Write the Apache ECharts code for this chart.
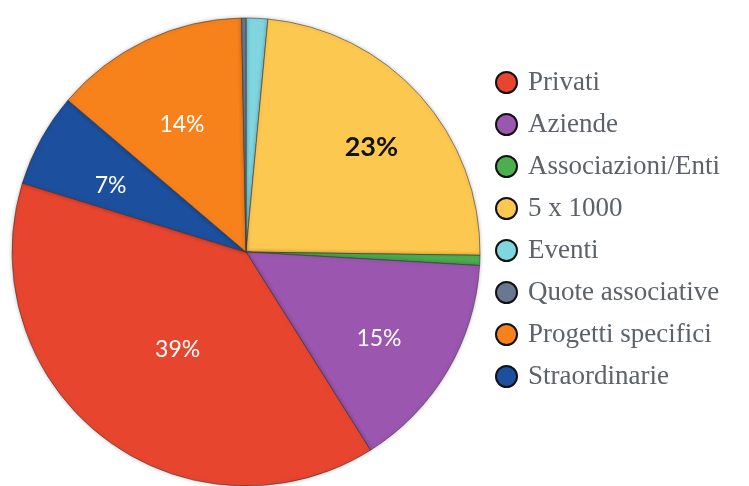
<!DOCTYPE html>
<html>
<head>
<meta charset="utf-8">
<script src="https://cdn.jsdelivr.net/npm/echarts@6/dist/echarts.min.js"></script>
<style>
html, body { margin: 0; padding: 0; background: #fff; }
#chart { width: 749px; height: 486px; }
</style>
</head>
<body>
<div id="chart"></div>
<script>
// legend order
const names = ["Privati", "Aziende", "Associazioni/Enti", "5 x 1000", "Eventi", "Quote associative", "Progetti specifici", "Straordinarie"];
const values = [38.8, 15.2, 0.7, 23.8, 1.5, 0.3, 13.5, 6.5];
const labels = ["39%", "15%", "", "23%", "", "", "14%", "7%"];
// slice order clockwise from 12 o'clock
const pieOrder = [4, 3, 2, 1, 0, 7, 6, 5];

const colors = ["#e8452f", "#9b56b0", "#4cae4f", "#fdc84f", "#80d6e0", "#6a7790", "#f7821c", "#1c4f9e"];
const labelRadius = {"Privati": 0.48, "Aziende": 0.66, "5 x 1000": 0.72, "Progetti specifici": 0.64, "Straordinarie": 0.66};

const cx = 246, cy = 252, r = 234;

let chart = echarts.init(document.getElementById("chart"));

chart.setOption({
	animation: false,
	legend: {
		orient: "vertical",
		left: 490,
		top: 64,
		icon: "circle",
		itemWidth: 21,
		itemHeight: 21,
		itemGap: 15,
		data: names,
		itemStyle: {
			borderColor: "#111",
			borderWidth: 2
		},
		textStyle: {
			fontFamily: "Liberation Serif",
			fontSize: 27,
			color: "#5c6268",
			padding: [0, 0, 0, 6]
		}
	},
	series: [
		{
			type: "pie",
			center: [cx, cy],
			radius: r,
			startAngle: 90,
			clockwise: true,
			avoidLabelOverlap: false,
			itemStyle: {
				borderColor: "rgba(50,50,50,0.55)",
				borderWidth: 1,
				shadowBlur: 4,
				shadowColor: "rgba(0,0,0,0.25)"
			},
			label: {
				show: true,
				position: "inside",
				fontFamily: "Lato",
				fontSize: 23,
				color: "#fff",
				formatter: (p) => labels[names.indexOf(p.name)]
			},
			labelLine: {show: false},
			labelLayout: function (params) {
				let name = names[pieOrder[params.dataIndex]];
				let f = labelRadius[name];
				if (!f) return {};
				let rect = params.labelRect;
				let lx = rect.x + rect.width / 2;
				let ly = rect.y + rect.height / 2;
				let vx = lx - cx, vy = ly - cy;
				let len = Math.sqrt(vx * vx + vy * vy) || 1;
				return {
					dx: cx + vx / len * f * r - lx,
					dy: cy + vy / len * f * r - ly + 8
				};
			},
			data: pieOrder.map((i) => ({
				name: names[i],
				value: values[i],
				itemStyle: {color: colors[i]},
				label: names[i] === "5 x 1000" ? {color: "#111", fontWeight: "bold", fontSize: 27} : {}
			}))
		}
	]
});
</script>
</body>
</html>
